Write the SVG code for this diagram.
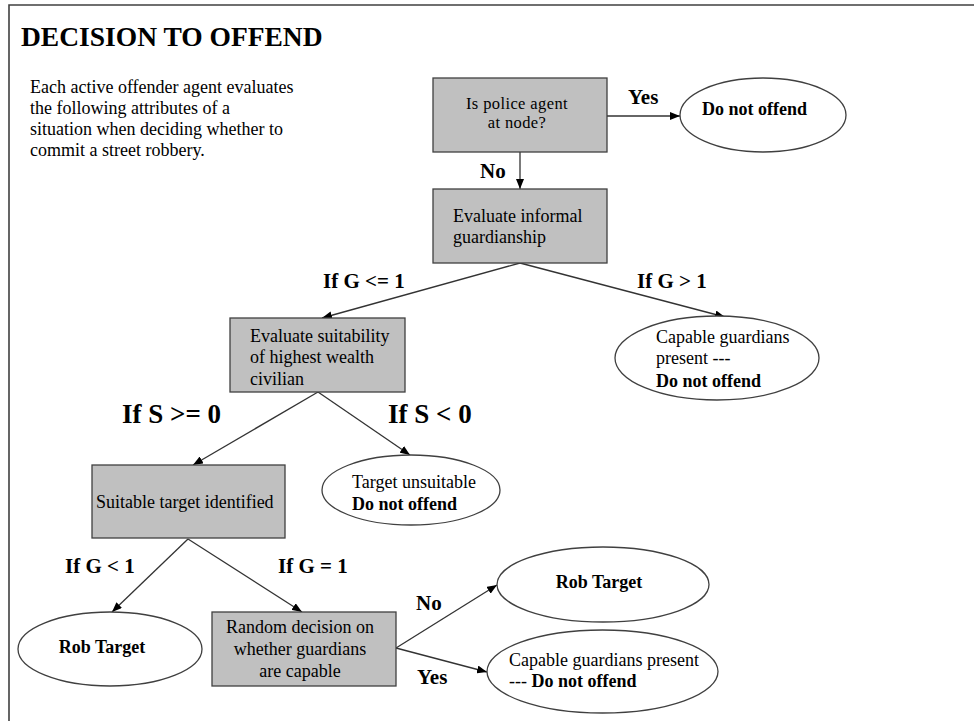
<svg xmlns="http://www.w3.org/2000/svg" width="974" height="721" viewBox="0 0 974 721">
<defs>
<style>
.box{fill:#c0c0c0;stroke:#404040;stroke-width:1.3}
.ell{fill:#ffffff;stroke:#404040;stroke-width:1.3}
.t{font-family:"Liberation Serif","Times New Roman",serif;font-size:18px;fill:#000}
.s{font-family:"Liberation Serif","Times New Roman",serif;font-size:16.5px;fill:#000;letter-spacing:0.4px}
.b{font-family:"Liberation Serif","Times New Roman",serif;font-size:18px;font-weight:bold;fill:#000}
.lbl{font-family:"Liberation Serif","Times New Roman",serif;font-size:21px;font-weight:bold;fill:#000}
.big{font-family:"Liberation Serif","Times New Roman",serif;font-size:27px;font-weight:bold;fill:#000}
.c{text-anchor:middle}
.con{stroke:#333;stroke-width:1.3;fill:none;marker-end:url(#arr)}
</style>
<marker id="arr" markerUnits="userSpaceOnUse" markerWidth="10" markerHeight="8" refX="10" refY="4" orient="auto">
<path d="M0,0 L10,4 L0,8 z" fill="#000"/>
</marker>
</defs>
<rect width="974" height="721" fill="#fff"/>
<path d="M9,721 L9,5 L974,5" fill="none" stroke="#404040" stroke-width="1.6"/>
<text x="21" y="46" style="font-family:'Liberation Serif','Times New Roman',serif;font-size:27.5px;font-weight:bold">DECISION TO OFFEND</text>
<g id="intro">
<text class="t" x="30" y="93">Each active offender agent evaluates</text>
<text class="t" x="30" y="114">the following attributes of a</text>
<text class="t" x="30" y="135">situation when deciding whether to</text>
<text class="t" x="30" y="156">commit a street robbery.</text>
</g>
<g id="connectors">
<line class="con" x1="607" y1="116" x2="680" y2="116"/>
<line class="con" x1="520" y1="152" x2="520" y2="189"/>
<line class="con" x1="520" y1="263" x2="322" y2="318"/>
<line class="con" x1="520" y1="263" x2="725" y2="317"/>
<line class="con" x1="318" y1="392" x2="193" y2="465"/>
<line class="con" x1="318" y1="392" x2="410" y2="455"/>
<line class="con" x1="188" y1="539" x2="112" y2="612"/>
<line class="con" x1="188" y1="539" x2="302" y2="612"/>
<line class="con" x1="396" y1="648" x2="497" y2="585"/>
<line class="con" x1="396" y1="648" x2="487" y2="672"/>
<text class="lbl" x="628" y="104">Yes</text>
<text class="lbl" x="480" y="178">No</text>
<text class="lbl" x="323" y="288">If G &lt;= 1</text>
<text class="lbl" x="637" y="288">If G &gt; 1</text>
<text class="big" x="122" y="423">If S &gt;= 0</text>
<text class="big" x="388" y="423">If S &lt; 0</text>
<text class="lbl" x="65" y="573">If G &lt; 1</text>
<text class="lbl" x="278" y="573">If G = 1</text>
<text class="lbl" x="416" y="610">No</text>
<text class="lbl" x="417" y="684">Yes</text>
</g>
<g id="police">
<rect class="box" x="433" y="78" width="174" height="74"/>
<text class="s c" x="517" y="109">Is police agent</text>
<text class="s c" x="517" y="128">at node?</text>
</g>
<g id="dno1">
<ellipse class="ell" cx="763" cy="115" rx="83" ry="37"/>
<text class="b" x="702" y="115">Do not offend</text>
</g>
<g id="guard">
<rect class="box" x="433" y="189" width="174" height="74"/>
<text class="t" x="453" y="222">Evaluate informal</text>
<text class="t" x="453" y="243">guardianship</text>
</g>
<g id="suit">
<rect class="box" x="230" y="318" width="175" height="74"/>
<text class="t" x="250" y="342">Evaluate suitability</text>
<text class="t" x="250" y="363">of highest wealth</text>
<text class="t" x="250" y="385">civilian</text>
</g>
<g id="capable1">
<ellipse class="ell" cx="717" cy="358" rx="102" ry="42"/>
<text class="t" x="656" y="343">Capable guardians</text>
<text class="t" x="656" y="364">present ---</text>
<text class="b" x="656" y="387">Do not offend</text>
</g>
<g id="target">
<rect class="box" x="92" y="465" width="193" height="73"/>
<text class="t" x="96" y="508">Suitable target identified</text>
</g>
<g id="unsuitable">
<ellipse class="ell" cx="411" cy="490" rx="89" ry="35"/>
<text class="t" x="352" y="488">Target unsuitable</text>
<text class="b" x="352" y="510">Do not offend</text>
</g>
<g id="rob1">
<ellipse class="ell" cx="110" cy="649" rx="92" ry="37"/>
<text class="b c" x="102" y="653">Rob Target</text>
</g>
<g id="random">
<rect class="box" x="212" y="612" width="184" height="74"/>
<text class="t c" x="300" y="633">Random decision on</text>
<text class="t c" x="300" y="655">whether guardians</text>
<text class="t c" x="300" y="677">are capable</text>
</g>
<g id="rob2">
<ellipse class="ell" cx="603" cy="584.5" rx="106" ry="37.5"/>
<text class="b c" x="599" y="588">Rob Target</text>
</g>
<g id="capable2">
<ellipse class="ell" cx="602.5" cy="671.5" rx="115.5" ry="41.5"/>
<text class="t" x="509" y="666">Capable guardians present</text>
<text class="t" x="509" y="687">--- <tspan font-weight="bold">Do not offend</tspan></text>
</g>
</svg>
